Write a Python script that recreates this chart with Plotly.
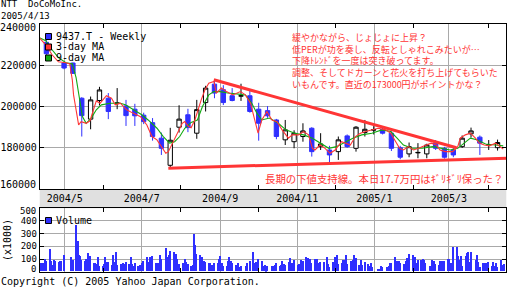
import plotly.graph_objects as go
import pandas as pd

W, H = 512, 288

# ---------------- data ----------------
candle_dates = ["2004-04-16", "2004-04-30", "2004-05-07", "2004-05-14", "2004-05-21", "2004-05-28",
                "2004-06-04", "2004-06-11", "2004-06-18", "2004-06-25", "2004-07-02", "2004-07-09",
                "2004-07-16", "2004-07-23", "2004-07-30", "2004-08-06", "2004-08-13", "2004-08-20",
                "2004-08-27", "2004-09-03", "2004-09-10", "2004-09-17", "2004-09-24", "2004-10-01",
                "2004-10-08", "2004-10-15", "2004-10-22", "2004-10-29", "2004-11-05", "2004-11-12",
                "2004-11-19", "2004-11-26", "2004-12-03", "2004-12-10", "2004-12-17", "2004-12-24",
                "2004-12-31", "2005-01-07", "2005-01-14", "2005-01-21", "2005-01-28", "2005-02-04",
                "2005-02-11", "2005-02-18", "2005-02-25", "2005-03-04", "2005-03-11", "2005-03-18",
                "2005-03-25", "2005-04-01", "2005-04-08"]
opens = [231000, 221000, 221000, 204000, 193900, 202900, 204000, 201400, 200300, 198700, 195800, 192200,
         184700, 171600, 190000, 196000, 187100, 201900, 210800, 208100, 205200, 205000, 205200, 198700,
         198000, 193500, 183900, 183000, 185500, 189500, 180600, 179000, 178200, 185800, 179800, 187400,
         188600, 189000, 187100, 180100, 177100, 177600, 177100, 182300, 179800, 179000, 180600, 186800,
         185200, 181300, 180100]
highs = [233000, 221500, 221200, 204500, 204800, 209500, 206500, 208900, 203200, 201300, 197000, 194400,
         187400, 189700, 200600, 198900, 203200, 210000, 212400, 210300, 208900, 211000, 207600, 201800,
         200200, 194000, 193500, 188500, 191900, 190000, 187100, 181000, 185500, 186500, 190500, 193500,
         190500, 190000, 188000, 181000, 182600, 182300, 182000, 183800, 180500, 180000, 186000, 189800,
         186000, 183800, 184000]
lows = [224500, 218000, 215800, 185500, 189000, 200500, 193900, 198700, 190600, 190600, 191500, 183500,
        176600, 170100, 187400, 187600, 184400, 197600, 204000, 200700, 202500, 202700, 197000, 183500,
        194500, 184200, 181400, 179800, 183000, 175800, 179000, 172600, 174200, 180000, 178200, 185500,
        186500, 186500, 178500, 174500, 175500, 175000, 175000, 179000, 174800, 175500, 180000, 185000,
        176600, 179000, 178700]
closes = [225500, 218600, 216000, 195600, 203200, 208000, 197600, 201700, 195600, 195500, 192700, 185500,
          179800, 183700, 193900, 189800, 198500, 208900, 206500, 201900, 202900, 205200, 197600, 191900,
          195500, 185500, 188700, 187100, 188200, 178200, 181900, 176600, 183900, 180600, 190000, 189000,
          188800, 187100, 179800, 175500, 180600, 177800, 181400, 179800, 175500, 176600, 184700, 188200,
          182300, 181500, 182600]

ma3_dates = ["2004-04-11", "2004-04-16", "2004-04-21", "2004-04-26", "2004-05-02", "2004-05-05", "2004-05-07",
             "2004-05-08", "2004-05-10", "2004-05-12", "2004-05-14", "2004-05-18", "2004-05-21", "2004-05-23",
             "2004-05-26", "2004-05-29", "2004-06-03", "2004-06-07", "2004-06-10", "2004-06-14", "2004-06-19",
             "2004-06-24", "2004-06-30", "2004-07-05", "2004-07-09", "2004-07-13", "2004-07-17", "2004-07-20",
             "2004-07-22", "2004-07-26", "2004-07-30", "2004-08-02", "2004-08-04", "2004-08-07", "2004-08-09",
             "2004-08-12", "2004-08-17", "2004-08-20", "2004-08-23", "2004-08-27", "2004-08-29", "2004-09-02",
             "2004-09-06", "2004-09-11", "2004-09-17", "2004-09-21", "2004-09-25", "2004-09-29", "2004-10-01",
             "2004-10-04", "2004-10-08", "2004-10-12", "2004-10-16", "2004-10-20", "2004-10-22", "2004-10-25",
             "2004-10-28", "2004-11-02", "2004-11-06", "2004-11-10", "2004-11-13", "2004-11-15", "2004-11-19",
             "2004-11-23", "2004-11-27", "2004-12-01", "2004-12-06", "2004-12-09", "2004-12-13", "2004-12-17",
             "2004-12-21", "2004-12-25", "2004-12-30", "2005-01-04", "2005-01-10", "2005-01-14", "2005-01-17",
             "2005-01-21", "2005-01-24", "2005-01-28", "2005-02-01", "2005-02-05", "2005-02-11", "2005-02-15",
             "2005-02-19", "2005-02-22", "2005-02-26", "2005-03-04", "2005-03-08", "2005-03-10", "2005-03-14",
             "2005-03-18", "2005-03-22", "2005-03-25", "2005-03-29", "2005-04-02", "2005-04-07", "2005-04-11",
             "2005-04-13"]
ma3_values = [233200, 229800, 225000, 221600, 221100, 220600, 212900, 205600, 198400, 191100, 192700, 191900,
              193100, 197400, 202700, 201600, 205200, 204000, 200800, 201600, 198400, 196800, 195100, 191100,
              185500, 183900, 179800, 177400, 178200, 183000, 187900, 191900, 192700, 190300, 189700, 193500,
              203200, 208100, 211300, 212100, 206500, 208900, 207200, 205600, 207200, 205600, 201600, 191900,
              187100, 193500, 197600, 193500, 192700, 188700, 187100, 184700, 186300, 186300, 187900, 186300,
              179800, 179000, 181400, 179800, 177400, 179000, 183000, 182300, 181400, 185500, 187100, 187900,
              188700, 189500, 188700, 187100, 183900, 179800, 179000, 180600, 179000, 179800, 181400, 182300,
              181400, 179000, 178200, 178200, 180600, 184700, 186300, 187100, 184700, 182300, 181400, 181000,
              182300, 180600, 179400]

ma9_dates = ["2004-04-11", "2004-04-16", "2004-04-21", "2004-04-26", "2004-05-02", "2004-05-07", "2004-05-10",
             "2004-05-12", "2004-05-14", "2004-05-15", "2004-05-18", "2004-05-22", "2004-05-26", "2004-05-30",
             "2004-06-06", "2004-06-14", "2004-06-18", "2004-06-24", "2004-07-01", "2004-07-06", "2004-07-13",
             "2004-07-18", "2004-07-23", "2004-07-27", "2004-07-31", "2004-08-04", "2004-08-09", "2004-08-14",
             "2004-08-18", "2004-08-23", "2004-08-27", "2004-09-01", "2004-09-07", "2004-09-14", "2004-09-21",
             "2004-09-26", "2004-09-30", "2004-10-04", "2004-10-10", "2004-10-17", "2004-10-23", "2004-10-30",
             "2004-11-06", "2004-11-13", "2004-11-19", "2004-11-26", "2004-12-02", "2004-12-09", "2004-12-15",
             "2004-12-22", "2004-12-30", "2005-01-07", "2005-01-14", "2005-01-19", "2005-01-24", "2005-01-31",
             "2005-02-08", "2005-02-16", "2005-02-24", "2005-03-02", "2005-03-08", "2005-03-13", "2005-03-18",
             "2005-03-23", "2005-03-30", "2005-04-07", "2005-04-13"]
ma9_values = [233200, 231800, 227400, 223600, 221100, 220600, 213900, 205600, 198400, 195100, 191900, 194400,
              198400, 200800, 201600, 201600, 200800, 198400, 196000, 193500, 189500, 185500, 182300, 183000,
              185500, 189500, 192300, 193500, 200000, 205600, 207200, 207200, 206500, 206100, 205600, 201600,
              196800, 193500, 194400, 191900, 188700, 187100, 186300, 184700, 182300, 179800, 180600, 183000,
              184700, 186300, 187100, 188700, 187900, 184700, 181400, 179800, 179800, 180600, 179800, 179000,
              179800, 182300, 184700, 183900, 181900, 181400, 181000]

trend_down_dates = ["2004-08-27", "2005-03-07"]
trend_down_prices = [212900, 180100]
support_dates = ["2004-07-22", "2005-04-16"]
support_prices = [170200, 175050]

holidays = ["2004-04-29", "2004-05-03", "2004-05-04", "2004-05-05", "2004-07-19", "2004-09-20",
            "2004-09-23", "2004-10-11", "2004-11-03", "2004-11-23", "2004-12-23", "2004-12-31",
            "2005-01-03", "2005-01-10", "2005-02-11", "2005-03-21"]
volume = [66, 66, 66, 100, 79, 179, 84, 53, 92, 84, 75, 79, 79, 132,
          113, 87, 368, 242, 132, 118, 90, 79, 100, 145, 118, 118, 66, 66, 58, 113, 45, 45,
          58, 113, 74, 74, 53, 132, 74, 153, 53, 58, 58, 66, 58, 74, 58, 113, 58, 40, 66, 40, 53, 53,
          66, 79, 113, 74, 110, 74, 118, 66, 66, 66, 132, 97, 184, 110, 132, 163, 150, 100, 137, 100,
          58, 66, 66, 100, 74, 58, 45, 47, 297, 210, 137, 126, 113, 53, 79, 74, 66, 66, 47, 53,
          66, 66, 100, 118, 66, 45, 40, 79, 113, 79, 66, 53, 53, 66, 32, 40, 40, 66, 79, 153,
          66, 74, 74, 100, 79, 40, 53, 13, 45, 40,
          40, 47, 66, 40, 53, 79, 61, 47, 74, 105, 45, 66, 92, 53, 60, 92, 79, 113, 105, 100,
          100, 66, 100, 100, 66, 61, 74, 74, 113, 61, 34, 74, 74, 113, 132, 58, 66, 87, 92, 132,
          61, 79, 66, 92, 132, 105, 53, 87, 53, 71, 60, 40, 66, 32, 21, 21, 45, 32, 32, 45, 66,
          66, 110, 61, 79, 79, 66, 61, 53, 84, 105, 139, 132, 110, 110, 66, 92, 92, 100, 87, 66,
          45, 92, 84, 84, 61, 53, 84, 84, 53, 84, 100, 100, 66, 66, 189, 189, 118, 92, 118, 40,
          118, 145, 153, 74, 153, 92, 126, 74, 32, 66, 66, 40, 66, 74, 40, 74, 45, 66, 34, 92, 53, 58]

month_ticks = ["2004-05-01", "2004-07-01", "2004-09-01", "2004-11-01", "2005-01-01", "2005-03-01"]
month_labels = ["2004/5", "2004/7", "2004/9", "2004/11", "2005/1", "2005/3"]
minor_months = ["2004-06-01", "2004-08-01", "2004-10-01", "2004-12-01", "2005-02-01", "2005-04-01"]
price_ticks = [160000, 180000, 200000, 220000, 240000]
volume_ticks = [0, 100, 200, 300, 400, 500]

title_lines = ["NTT&nbsp;&nbsp;DoCoMoInc.", "2005/4/13"]
note_lines = ["緩やかながら、じょじょに上昇？",
              "低PERが功を奏し、反転としゃれこみたいが…",
              "下降ﾄﾚﾝﾄﾞを一度は突き破ってます。",
              "調整、そしてドカーンと花火を打ち上げてもらいた",
              "いもんです。直近の173000円がポイントかな？"]
support_note = "長期の下値支持線。本日17.7万円はｷﾞﾘｷﾞﾘ保った？"
legend_names = ["9437.T - Weekly", "3-day MA", "9-day MA"]
copyright_text = "Copyright (C) 2005 Yahoo Japan Corporation."

# ---------------- style ----------------
BLUE = "#2f2fff"
RED = "#ff3535"
GREEN = "#11aa11"
GRID = "#a9a9a9"
MONO = "DejaVu Sans Mono"
JP = "Noto Sans CJK JP"

vol_dates = [d for d in pd.bdate_range("2004-04-12", "2005-04-13") if d.strftime("%Y-%m-%d") not in holidays]
n = min(len(vol_dates), len(volume))
vol_dates = vol_dates[:n]
volume = volume[:n]

def px(x):
    return x / W

def py(y):
    return 1 - y / H

X0, X1 = 39.7, 506.3
P_TOP, P_BOT = 23.7, 189.3
V_TOP, V_BOT = 208.3, 271.7

fig = go.Figure()

fig.add_trace(go.Scatter(x=ma9_dates, y=ma9_values, mode="lines", line=dict(color=GREEN, width=1.1),
                         xaxis="x", yaxis="y", hoverinfo="skip"))
fig.add_trace(go.Scatter(x=ma3_dates, y=ma3_values, mode="lines", line=dict(color=RED, width=1.1),
                         xaxis="x", yaxis="y", hoverinfo="skip"))
fig.add_trace(go.Candlestick(
    x=[d + " 12:00" for d in candle_dates], open=opens, high=highs, low=lows, close=closes,
    increasing=dict(fillcolor="white", line=dict(color="black", width=1)),
    decreasing=dict(fillcolor=BLUE, line=dict(color=BLUE, width=1)),
    whiskerwidth=0, xaxis="x", yaxis="y", hoverinfo="skip"))
fig.add_trace(go.Scatter(x=trend_down_dates, y=trend_down_prices, mode="lines",
                         line=dict(color=RED, width=3), xaxis="x", yaxis="y", hoverinfo="skip"))
fig.add_trace(go.Scatter(x=support_dates, y=support_prices, mode="lines",
                         line=dict(color=RED, width=3), xaxis="x", yaxis="y", hoverinfo="skip"))
fig.add_trace(go.Bar(x=vol_dates, y=volume, marker=dict(color=BLUE, line=dict(width=0)),
                     width=0.8 * 86400000, xaxis="x2", yaxis="y2", hoverinfo="skip"))

axis_font = dict(family=MONO, size=10, color="black")
vol_font = dict(family=MONO, size=9, color="black")
common_x = dict(type="date", range=["2004-04-11 05:00", "2005-04-15 10:00"],
                domain=[px(X0), px(X1)], showline=True, mirror="allticks", linecolor="black", linewidth=1,
                showgrid=True, gridcolor=GRID, gridwidth=1, tickmode="array", tickvals=month_ticks,
                ticks="", zeroline=False, fixedrange=True,
                minor=dict(tickmode="array", tickvals=minor_months, ticks="inside", ticklen=4,
                           tickcolor="black", showgrid=False))

# inner tick labels come from the axes; the two edge labels of each panel are nudged inward like the original
price_text = ["" if v in (price_ticks[0], price_ticks[-1]) else str(v) for v in price_ticks]
volume_text = ["" if v in (volume_ticks[0], volume_ticks[-1]) else str(v) for v in volume_ticks]

fig.update_layout(
    width=W, height=H, margin=dict(l=0, r=0, t=0, b=0),
    paper_bgcolor="white", plot_bgcolor="white", showlegend=False, bargap=0,
    xaxis=dict(common_x, anchor="y", ticktext=month_labels, showticklabels=True, tickfont=axis_font,
               rangeslider=dict(visible=False)),
    xaxis2=dict(common_x, anchor="y2", matches="x", showticklabels=False),
    yaxis=dict(domain=[py(P_BOT), py(P_TOP)], range=[160000, 240000], tickmode="array",
               tickvals=price_ticks, ticktext=price_text, tickfont=axis_font,
               showline=True, mirror="allticks", linecolor="black", linewidth=1, showgrid=True,
               gridcolor=GRID, ticks="inside", ticklen=4, tickcolor="black", zeroline=False,
               fixedrange=True),
    yaxis2=dict(domain=[py(V_BOT), py(V_TOP)], range=[0, 500], tickmode="array",
                tickvals=volume_ticks, ticktext=volume_text, tickfont=vol_font,
                showline=True, mirror="allticks", linecolor="black", linewidth=1, showgrid=True,
                gridcolor=GRID, ticks="inside", ticklen=4, tickcolor="black", zeroline=False,
                fixedrange=True),
)

shapes = [dict(type="rect", xref="paper", yref="paper", x0=px(X0), x1=px(X1), y0=py(V_TOP), y1=py(P_BOT),
               fillcolor="#e0e0e0", line=dict(width=0), layer="below")]
legend_rows = [(36.5, BLUE), (47.0, RED), (58.0, GREEN)]
for (yc, col) in legend_rows + [(220.5, BLUE)]:
    shapes.append(dict(type="rect", xref="paper", yref="paper", x0=px(45.5), x1=px(51.5),
                       y0=py(yc + 3), y1=py(yc - 3), fillcolor=col, line=dict(color="black", width=1)))
fig.update_layout(shapes=shapes)

anns = []
def ann(text, x, y, size, color="black", family=MONO, xanchor="left", angle=0, align="left"):
    anns.append(dict(text=text, x=px(x), y=py(y), xref="paper", yref="paper", showarrow=False,
                     xanchor=xanchor, yanchor="middle", textangle=angle, align=align,
                     font=dict(family=family, size=size, color=color), borderpad=0))

ann("<br>".join(title_lines), 0, 9.8, 9)
ann(str(price_ticks[-1]), 37, 27.3, 10, xanchor="right")
ann(str(price_ticks[0]), 37, 184.5, 10, xanchor="right")
ann(str(volume_ticks[-1]), 37, 211, 9, xanchor="right")
ann(str(volume_ticks[0]), 37, 269.4, 9, xanchor="right")
for (yc, col), name in zip(legend_rows, legend_names):
    ann(name, 54.5, yc, 10)
ann("Volume", 54.5, 220.5, 10)
ann("(x1000)", 7, 240, 10, angle=-90, xanchor="center")
ann(copyright_text, 0, 281.2, 10)
ann("<br>".join(note_lines), 290.5, 60.7, 9, color=RED, family=JP)
ann(support_note, 263.5, 178, 10.4, color=RED, family=JP)
fig.update_layout(annotations=anns)

fig.write_html("out.html")
